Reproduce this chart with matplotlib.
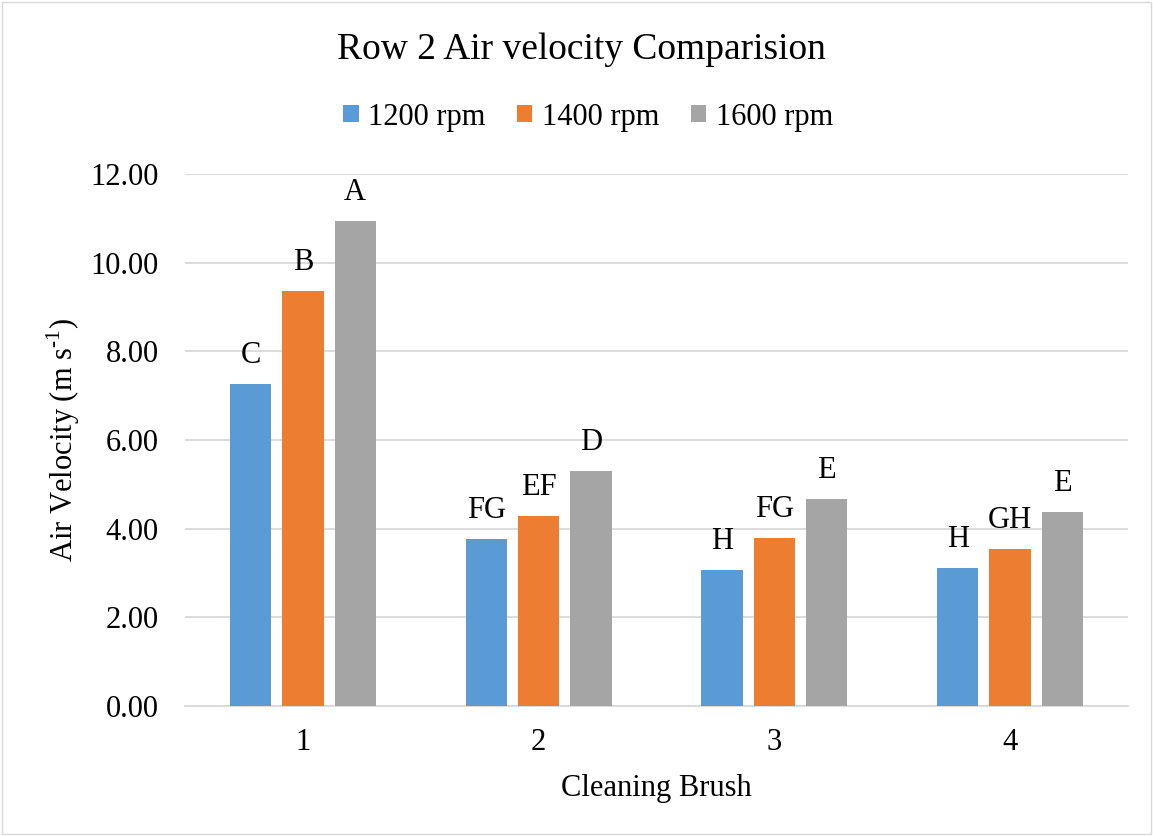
import numpy as np
import matplotlib
matplotlib.use("Agg")
import matplotlib.pyplot as plt

plt.rcParams["font.family"] = ["Liberation Serif", "DejaVu Serif"]
plt.rcParams["mathtext.fontset"] = "custom"
plt.rcParams["mathtext.rm"] = "Liberation Serif"
plt.rcParams["axes.unicode_minus"] = False

# data
brushes = ["1", "2", "3", "4"]
series_names = ["1200 rpm", "1400 rpm", "1600 rpm"]
rpm_1200 = [7.26, 3.76, 3.07, 3.11]
rpm_1400 = [9.36, 4.28, 3.80, 3.55]
rpm_1600 = [10.94, 5.31, 4.68, 4.37]
letters_1200 = ["C", "FG", "H", "H"]
letters_1400 = ["B", "EF", "FG", "GH"]
letters_1600 = ["A", "D", "E", "E"]

colors = ["#5B9BD5", "#ED7D31", "#A5A5A5"]

fig = plt.figure(figsize=(11.53, 8.36), dpi=100)
ax = fig.add_axes([185 / 1153, 1 - 706 / 836, 943 / 1153, 532 / 836])

x = np.arange(len(brushes))
width = 0.175
offset = 0.222
all_values = [rpm_1200, rpm_1400, rpm_1600]
all_letters = [letters_1200, letters_1400, letters_1600]
for i, (vals, labs) in enumerate(zip(all_values, all_letters)):
    pos = x + (i - 1) * offset
    bars = ax.bar(pos, vals, width, color=colors[i], label=series_names[i], zorder=3)
    ax.bar_label(bars, labels=labs, padding=10, fontsize=22)

ax.set_xlim(-0.5, 3.5)
ax.set_ylim(0, 12)
ax.set_yticks(np.arange(0, 12.1, 2))
ax.set_yticklabels([f"{v:.2f}" for v in np.arange(0, 12.1, 2)])
ax.set_xticks(x)
ax.set_xticklabels(brushes)
ax.tick_params(axis="both", length=0, labelsize=22)
ax.tick_params(axis="x", pad=16)
ax.tick_params(axis="y", pad=19)
ax.grid(axis="y", color="#D9D9D9", linewidth=1.3, zorder=0)
for side in ["top", "right", "left"]:
    ax.spines[side].set_visible(False)
ax.spines["bottom"].set_color("#D9D9D9")
ax.spines["bottom"].set_linewidth(1.3)

ax.set_xlabel("Cleaning Brush", fontsize=22, labelpad=12)
ax.set_ylabel("Air Velocity (m s$^{\\text{-1}}$)", fontsize=22, labelpad=6)

fig.suptitle("Row 2 Air velocity Comparision", fontsize=27,
             x=581 / 1153, y=1 - 50 / 836, va="center")
fig.legend(*ax.get_legend_handles_labels(), loc="center",
           bbox_to_anchor=(588 / 1153, 1 - 117 / 836), ncol=3,
           frameon=False, fontsize=22, handlelength=0.5, handleheight=0.5,
           columnspacing=1.05, handletextpad=0.3)

# light border around the chart
fig.patches.append(plt.Rectangle((0.002, 0.002), 0.996, 0.996, transform=fig.transFigure,
                                 fill=False, edgecolor="#D9D9D9", linewidth=1))

fig.savefig("out.png", dpi=100)
